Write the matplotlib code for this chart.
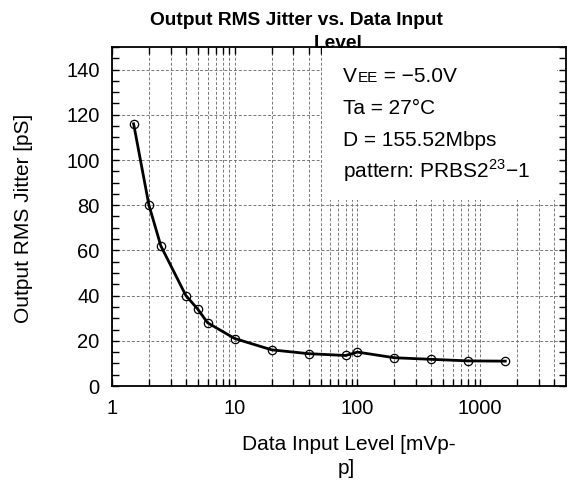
import numpy as np
import matplotlib.pyplot as plt
from matplotlib.ticker import FixedLocator, NullFormatter, MultipleLocator
from matplotlib.patches import Rectangle

plt.rcParams['font.family'] = ['Liberation Sans', 'DejaVu Sans']

# ── data ────────────────────────────────────────────────────
input_level = [1.5, 2, 2.5, 4, 5, 6, 10, 20, 40, 80, 100, 200, 400, 800, 1600]
jitter_rms = [116, 80, 62, 40, 34, 28, 21, 16, 14.3, 13.5, 15, 12.5, 11.8, 11.1, 11.0]
x_ticks = [1, 10, 100, 1000]
x_tick_labels = ['1', '10', '100', '1000']
y_ticks = [0, 20, 40, 60, 80, 100, 120, 140]
notes = ['Ta = 27\u00b0C', 'D = 155.52Mbps', 'pattern: PRBS2$^{\\mathregular{23}}$\u22121']

fig = plt.figure(figsize=(5.69, 4.83), dpi=100)
ax = fig.add_axes([112/569, 1 - 386/483, 454/569, 339/483])

ax.set_xscale('log')
ax.set_xlim(1, 5000)
ax.set_ylim(0, 150)

# ── ticks and grid ───────────────────────────────────────────
ax.xaxis.set_minor_locator(FixedLocator(
    [m * 10**d for d in range(4) for m in range(2, 10) if m * 10**d < 5000]))
ax.xaxis.set_minor_formatter(NullFormatter())
ax.set_xticks(x_ticks)
ax.set_xticklabels(x_tick_labels)
ax.set_yticks(y_ticks)
ax.yaxis.set_minor_locator(MultipleLocator(5))
ax.grid(True, which='major', axis='both', color='#777777', linestyle=(0, (3, 2)), linewidth=0.7)
ax.grid(True, which='minor', axis='x', color='#777777', linestyle=(0, (3, 2)), linewidth=0.7)

ax.tick_params(which='both', direction='in', top=True, right=True, labelsize=14.5,
               width=1, color='black')
ax.tick_params(which='major', length=5, pad=9)
ax.tick_params(which='minor', length=5)
for s in ax.spines.values():
    s.set_linewidth(1.3)

# white panel behind the conditions text
ax.add_patch(Rectangle((322/569, 1 - 200/483), (557 - 322)/569, (200 - 47)/483,
                       transform=fig.transFigure, facecolor='white', edgecolor='none', zorder=2))

ax.plot(input_level, jitter_rms, color='black', linewidth=2, marker='o', markersize=6,
        markerfacecolor='none', markeredgewidth=0.9, zorder=3)

# conditions text; "EE" drawn smaller on the same baseline as "V"
tv = fig.text(343/569, 1 - 82/483, 'V', fontsize=15, va='baseline', ha='left', zorder=4)
fig.canvas.draw()
bb = tv.get_window_extent()
tee = fig.text(bb.x1 / 569 + 0.5/569, 1 - 82/483, 'EE', fontsize=11, va='baseline', ha='left', zorder=4)
bb2 = tee.get_window_extent()
fig.text(bb2.x1 / 569, 1 - 82/483, ' = \u22125.0V', fontsize=15, va='baseline', ha='left', zorder=4)
for i, t in enumerate(notes):
    fig.text(343/569, 1 - (82 + 32*(i + 1))/483, t, fontsize=15, va='baseline', ha='left', zorder=4)

# ── titles / labels ──────────────────────────────────────────
fig.text(296/569, 1 - 25/483, 'Output RMS Jitter vs. Data Input', fontsize=13.8,
         fontweight='bold', ha='center', va='baseline')
fig.text(338/569, 1 - 48/483, 'Level', fontsize=13.8, fontweight='bold',
         ha='center', va='baseline', zorder=10)
fig.text(349/569, 1 - 444/483, 'Data Input Level [mVp-', fontsize=15, ha='center', va='center')
fig.text(346/569, 1 - 468/483, 'p]', fontsize=15, ha='center', va='center')
fig.text(24/569, 1 - 218/483, 'Output RMS Jitter [pS]', fontsize=15, rotation=90,
         ha='center', va='center')

fig.savefig('out.png', dpi=100)
